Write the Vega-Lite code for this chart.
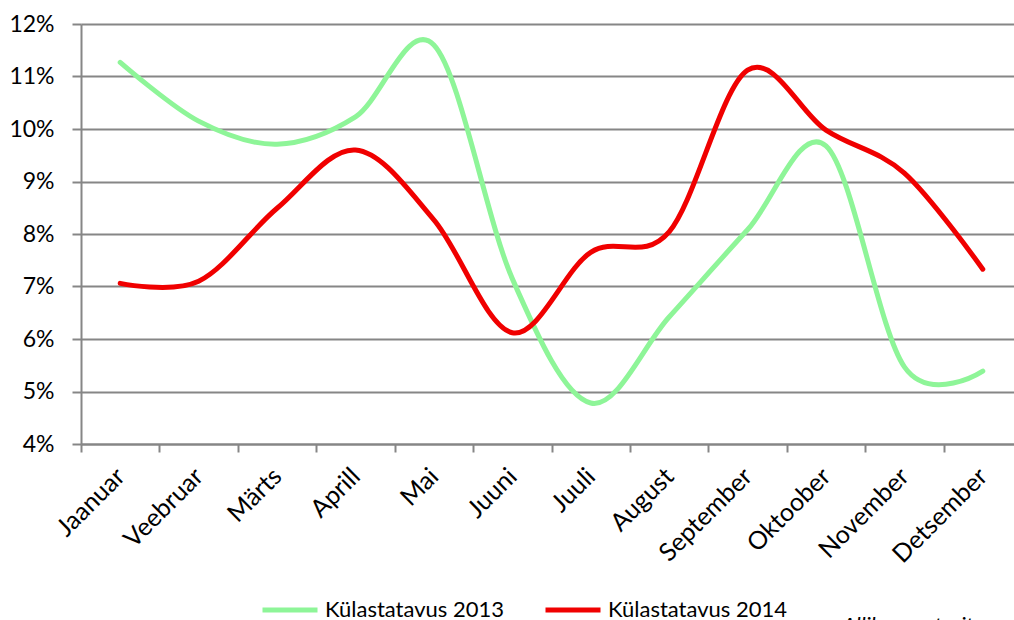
{
  "$schema": "https://vega.github.io/schema/vega-lite/v6.json",
  "width": 933,
  "height": 420,
  "autosize": {"type": "none"},
  "padding": {"left": 81, "top": 24, "right": 0, "bottom": 176},
  "background": "white",
  "config": {
    "font": "Lato",
    "view": {"stroke": null}
  },
  "title": {
    "text": "Allikas: autorite andmed",
    "orient": "bottom",
    "anchor": "start",
    "dx": 833,
    "offset": -5,
    "fontStyle": "italic",
    "fontWeight": "normal",
    "fontSize": 22,
    "font": "Lato",
    "color": "black"
  },
  "data": {
    "values": [
      {"month": "Jaanuar", "series": "Külastatavus 2013", "value": 0.1127},
      {"month": "Veebruar", "series": "Külastatavus 2013", "value": 0.1015},
      {"month": "Märts", "series": "Külastatavus 2013", "value": 0.0971},
      {"month": "Aprill", "series": "Külastatavus 2013", "value": 0.1023},
      {"month": "Mai", "series": "Külastatavus 2013", "value": 0.1160},
      {"month": "Juuni", "series": "Külastatavus 2013", "value": 0.0715},
      {"month": "Juuli", "series": "Külastatavus 2013", "value": 0.0478},
      {"month": "August", "series": "Külastatavus 2013", "value": 0.0642},
      {"month": "September", "series": "Külastatavus 2013", "value": 0.0808},
      {"month": "Oktoober", "series": "Külastatavus 2013", "value": 0.0968},
      {"month": "November", "series": "Külastatavus 2013", "value": 0.0547},
      {"month": "Detsember", "series": "Külastatavus 2013", "value": 0.0539},
      {"month": "Jaanuar", "series": "Külastatavus 2014", "value": 0.0706},
      {"month": "Veebruar", "series": "Külastatavus 2014", "value": 0.0710},
      {"month": "Märts", "series": "Külastatavus 2014", "value": 0.0849},
      {"month": "Aprill", "series": "Külastatavus 2014", "value": 0.0960},
      {"month": "Mai", "series": "Külastatavus 2014", "value": 0.0827},
      {"month": "Juuni", "series": "Külastatavus 2014", "value": 0.0612},
      {"month": "Juuli", "series": "Külastatavus 2014", "value": 0.0765},
      {"month": "August", "series": "Külastatavus 2014", "value": 0.0804},
      {"month": "September", "series": "Külastatavus 2014", "value": 0.1112},
      {"month": "Oktoober", "series": "Külastatavus 2014", "value": 0.0998},
      {"month": "November", "series": "Külastatavus 2014", "value": 0.0916},
      {"month": "Detsember", "series": "Külastatavus 2014", "value": 0.0733}
    ]
  },
  "mark": {"type": "line", "interpolate": "cardinal", "tension": 0, "strokeWidth": 5, "strokeCap": "round"},
  "encoding": {
    "x": {
      "field": "month",
      "type": "nominal",
      "sort": null,
      "title": null,
      "scale": {"type": "band", "range": [0, 941], "paddingInner": 0, "paddingOuter": 0},
      "axis": {
        "tickBand": "extent",
        "labelAngle": -45,
        "labelAlign": "right",
        "labelBaseline": "middle",
        "labelFontSize": 25,
        "labelColor": "black",
        "labelPadding": 20,
        "tickSize": 8,
        "tickColor": "#868686",
        "tickWidth": 2,
        "domainColor": "#868686",
        "domainWidth": 2,
        "grid": false
      }
    },
    "y": {
      "field": "value",
      "type": "quantitative",
      "title": null,
      "scale": {"domain": [0.04, 0.12], "nice": false, "zero": false},
      "axis": {
        "values": [0.04, 0.05, 0.06, 0.07, 0.08, 0.09, 0.10, 0.11, 0.12],
        "format": ".0%",
        "labelFontSize": 23,
        "labelColor": "black",
        "labelPadding": 18,
        "tickSize": 9,
        "tickColor": "#868686",
        "tickWidth": 2,
        "domainColor": "#868686",
        "domainWidth": 2,
        "gridColor": "#868686",
        "gridWidth": 2,
        "gridOpacity": 1
      }
    },
    "color": {
      "field": "series",
      "type": "nominal",
      "title": null,
      "scale": {"domain": ["Külastatavus 2013", "Külastatavus 2014"], "range": ["#8EF598", "#F00000"]},
      "legend": {
        "orient": "none",
        "legendX": 179,
        "legendY": 556,
        "direction": "horizontal",
        "symbolType": "stroke",
        "symbolSize": 3025,
        "symbolStrokeWidth": 5,
        "labelFontSize": 22,
        "labelColor": "black",
        "labelOffset": 5,
        "columnPadding": 30,
        "labelLimit": 300
      }
    }
  }
}
